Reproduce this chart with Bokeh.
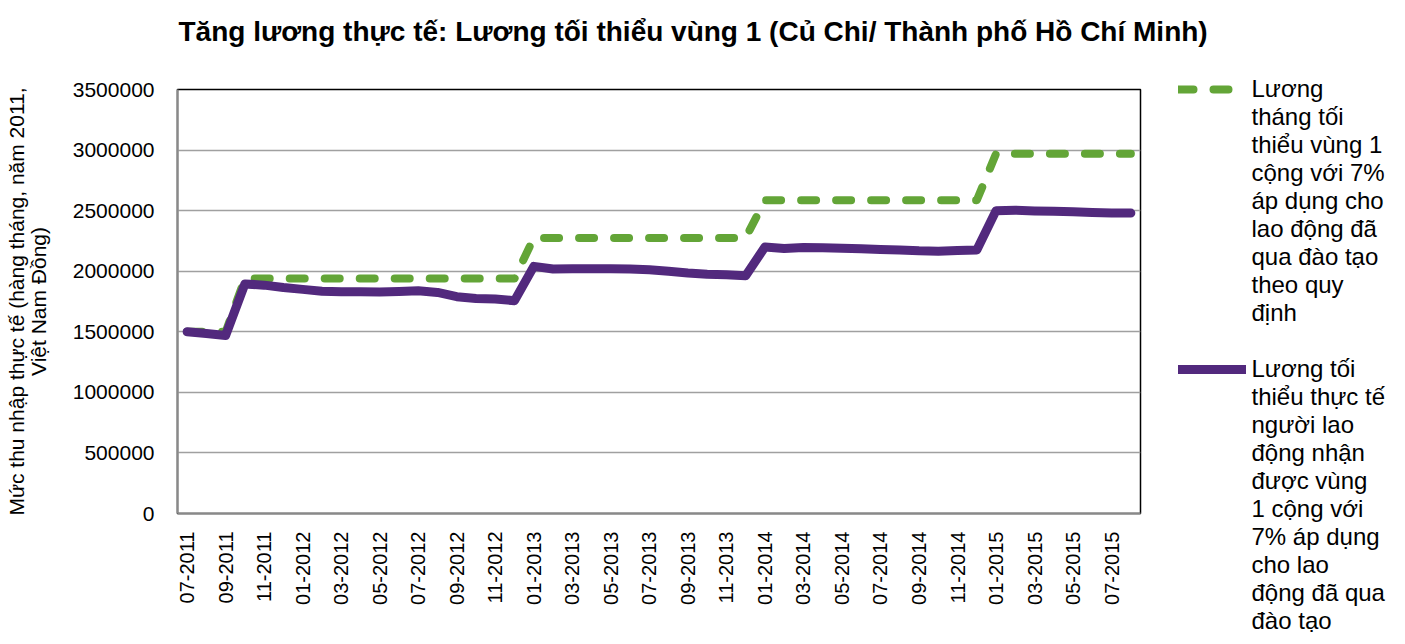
import math
from bokeh.plotting import figure
from bokeh.models import (Range1d, FixedTicker, NumeralTickFormatter, Legend, LegendItem,
                          Title)
from bokeh.embed import file_html
from bokeh.resources import INLINE

TITLE = "Tăng lương thực tế: Lương tối thiểu vùng 1 (Củ Chi/ Thành phố Hồ Chí Minh)"
Y_LABEL = "Mức thu nhập thực tế (hàng tháng, năm 2011,\nViệt Nam Đồng)"

months = [
    "07-2011", "08-2011", "09-2011", "10-2011", "11-2011", "12-2011",
    "01-2012", "02-2012", "03-2012", "04-2012", "05-2012", "06-2012",
    "07-2012", "08-2012", "09-2012", "10-2012", "11-2012", "12-2012",
    "01-2013", "02-2013", "03-2013", "04-2013", "05-2013", "06-2013",
    "07-2013", "08-2013", "09-2013", "10-2013", "11-2013", "12-2013",
    "01-2014", "02-2014", "03-2014", "04-2014", "05-2014", "06-2014",
    "07-2014", "08-2014", "09-2014", "10-2014", "11-2014", "12-2014",
    "01-2015", "02-2015", "03-2015", "04-2015", "05-2015", "06-2015",
    "07-2015", "08-2015",
]

# Lương tháng tối thiểu vùng 1 cộng với 7% ...
min_wage_plus7 = [
    1500000, 1500000, 1500000, 1940000, 1940000, 1940000,
    1940000, 1940000, 1940000, 1940000, 1940000, 1940000,
    1940000, 1940000, 1940000, 1940000, 1940000, 1940000,
    2275000, 2275000, 2275000, 2275000, 2275000, 2275000,
    2275000, 2275000, 2275000, 2275000, 2275000, 2275000,
    2585000, 2585000, 2585000, 2585000, 2585000, 2585000,
    2585000, 2585000, 2585000, 2585000, 2585000, 2585000,
    2970000, 2970000, 2970000, 2970000, 2970000, 2970000,
    2970000, 2970000,
]

# Lương tối thiểu thực tế ...
real_min_wage = [
    1500000, 1485000, 1470000, 1895000, 1885000, 1865000,
    1850000, 1835000, 1830000, 1830000, 1828000, 1832000,
    1838000, 1825000, 1790000, 1775000, 1770000, 1757000,
    2040000, 2018000, 2020000, 2020000, 2020000, 2018000,
    2012000, 2000000, 1985000, 1975000, 1970000, 1962000,
    2200000, 2188000, 2195000, 2193000, 2190000, 2185000,
    2180000, 2176000, 2168000, 2165000, 2170000, 2175000,
    2500000, 2503000, 2498000, 2495000, 2490000, 2485000,
    2480000, 2480000,
]

y_ticks = [0, 500000, 1000000, 1500000, 2000000, 2500000, 3000000, 3500000]

legend_green = ["Lương", "tháng tối", "thiểu vùng 1", "cộng với 7%", "áp dụng cho",
                "lao động đã", "qua đào tạo", "theo quy", "định"]
legend_purple = ["Lương tối", "thiểu thực tế", "người lao", "động nhận", "được vùng",
                 "1 cộng với", "7% áp dụng", "cho lao", "động đã qua", "đào tạo"]

GREEN = "#63A537"
PURPLE = "#52297D"
FONT = "Liberation Sans"

x = list(range(len(months)))

p = figure(width=1405, height=644, output_backend="svg", toolbar_location=None,
           x_range=Range1d(-0.5, len(months) - 0.5), y_range=Range1d(y_ticks[0], y_ticks[-1]),
           min_border_left=177, min_border_right=265, min_border_top=89, min_border_bottom=131)

p.background_fill_color = "white"
p.border_fill_color = "white"
p.outline_line_color = "black"
p.outline_line_width = 1.5

# spacer between title and plot frame (added first -> nearest to the frame)
p.add_layout(Title(text=" ", text_font=FONT, text_font_size="10px", standoff=30), "above")
p.add_layout(Title(text=TITLE, text_font=FONT, text_font_size="28px", text_font_style="bold",
                   text_color="black", align="left", offset=1, standoff=0,
                   vertical_align="bottom"), "above")

# x axis
p.xaxis.ticker = FixedTicker(ticks=x[::2])
p.xaxis.major_label_overrides = {i: m for i, m in zip(x, months)}
p.xaxis.major_label_orientation = math.pi / 2
p.xaxis.major_label_text_font = FONT
p.xaxis.major_label_text_font_size = "20px"
p.xaxis.major_label_text_color = "black"
p.xaxis.major_label_standoff = 18
p.xaxis.major_tick_line_color = None
p.xaxis.major_tick_out = 0
p.xaxis.major_tick_in = 0
p.xaxis.minor_tick_line_color = None
p.xaxis.axis_line_color = "#898989"
p.xaxis.axis_line_width = 2

# y axis
p.yaxis.ticker = FixedTicker(ticks=y_ticks)
p.yaxis.formatter = NumeralTickFormatter(format="0")
p.yaxis.major_label_text_font = FONT
p.yaxis.major_label_text_font_size = "21px"
p.yaxis.major_label_text_color = "black"
p.yaxis.major_label_standoff = 23
p.yaxis.major_tick_line_color = None
p.yaxis.major_tick_out = 0
p.yaxis.major_tick_in = 0
p.yaxis.minor_tick_line_color = None
p.yaxis.axis_line_color = "#898989"
p.yaxis.axis_line_width = 2
p.yaxis.axis_label = Y_LABEL
p.yaxis.axis_label_text_font = FONT
p.yaxis.axis_label_text_font_size = "21px"
p.yaxis.axis_label_text_font_style = "normal"
p.yaxis.axis_label_text_color = "black"
p.yaxis.axis_label_text_line_height = 0.95
p.yaxis.axis_label_standoff = 20

p.xgrid.grid_line_color = None
p.ygrid.ticker = FixedTicker(ticks=y_ticks)
p.ygrid.grid_line_color = "#A0A0A0"
p.ygrid.grid_line_width = 1.5

r_green = p.line(x, min_wage_plus7, line_color=GREEN, line_width=8, line_dash="15 20",
                 line_cap="round", line_join="round")
r_purple = p.line(x, real_min_wage, line_color=PURPLE, line_width=9,
                  line_cap="round", line_join="round")
# draws nothing; carries the extra text lines of the wrapped legend labels
r_blank = p.line([], [], line_alpha=0)

items = [LegendItem(label=legend_green[0], renderers=[r_green])]
items += [LegendItem(label=t, renderers=[r_blank]) for t in legend_green[1:]]
items += [LegendItem(label=" ", renderers=[r_blank])]
items += [LegendItem(label=legend_purple[0], renderers=[r_purple])]
items += [LegendItem(label=t, renderers=[r_blank]) for t in legend_purple[1:]]

# negative margin keeps the side panel narrow; the location offset places the legend
legend = Legend(items=items, location=(37.5, -121.5), orientation="vertical", ncols=1,
                glyph_width=68, glyph_height=28, label_height=28, label_width=20,
                label_standoff=6, spacing=0, padding=0, margin=-200,
                border_line_color=None, background_fill_alpha=0,
                label_text_font=FONT, label_text_font_size="24px",
                label_text_color="black", label_text_line_height=1.0)
p.add_layout(legend, "right")

open("out.html", "w").write(file_html(p, INLINE))
